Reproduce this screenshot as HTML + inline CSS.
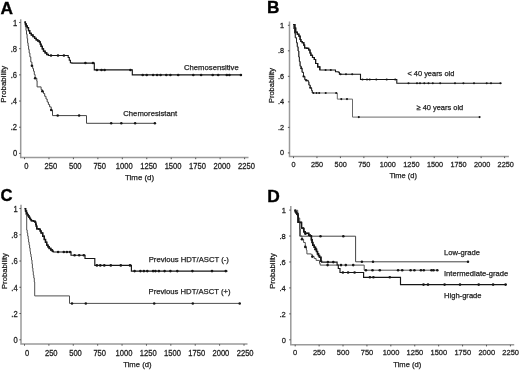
<!DOCTYPE html>
<html><head><meta charset="utf-8"><title>Survival curves</title>
<style>
html,body{margin:0;padding:0;background:#fff;}
body{width:520px;height:370px;overflow:hidden;}
svg{display:block;font-family:"Liberation Sans", sans-serif;will-change:transform;filter:blur(0.35px);}
</style></head>
<body>
<svg width="520" height="370" viewBox="0 0 520 370">
<rect width="520" height="370" fill="#fff"/>
<text x="0.6" y="13.7" font-size="17.3" text-anchor="start" font-weight="bold" fill="#000" stroke="#000" stroke-width="0.35" >A</text>
<path d="M20.7,19.3 V157.6 H248.5" fill="none" stroke="#9a9a9a" stroke-width="1.5" stroke-linejoin="miter" stroke-linecap="butt"/>
<path d="M19.1,153.4 H20.7" fill="none" stroke="#555" stroke-width="1" stroke-linejoin="miter" stroke-linecap="butt"/>
<text x="0" y="0" transform="translate(17.1,156.44) scale(1,1.08)" font-size="7.6" text-anchor="end" font-weight="normal" fill="#1e1e1e" stroke="#1e1e1e" stroke-width="0.25" >0</text>
<path d="M19.1,127.22 H20.7" fill="none" stroke="#555" stroke-width="1" stroke-linejoin="miter" stroke-linecap="butt"/>
<text x="0" y="0" transform="translate(17.1,130.26) scale(1,1.08)" font-size="7.6" text-anchor="end" font-weight="normal" fill="#1e1e1e" stroke="#1e1e1e" stroke-width="0.25" >.2</text>
<path d="M19.1,101.04 H20.7" fill="none" stroke="#555" stroke-width="1" stroke-linejoin="miter" stroke-linecap="butt"/>
<text x="0" y="0" transform="translate(17.1,104.08) scale(1,1.08)" font-size="7.6" text-anchor="end" font-weight="normal" fill="#1e1e1e" stroke="#1e1e1e" stroke-width="0.25" >.4</text>
<path d="M19.1,74.86 H20.7" fill="none" stroke="#555" stroke-width="1" stroke-linejoin="miter" stroke-linecap="butt"/>
<text x="0" y="0" transform="translate(17.1,77.9) scale(1,1.08)" font-size="7.6" text-anchor="end" font-weight="normal" fill="#1e1e1e" stroke="#1e1e1e" stroke-width="0.25" >.6</text>
<path d="M19.1,48.68 H20.7" fill="none" stroke="#555" stroke-width="1" stroke-linejoin="miter" stroke-linecap="butt"/>
<text x="0" y="0" transform="translate(17.1,51.72) scale(1,1.08)" font-size="7.6" text-anchor="end" font-weight="normal" fill="#1e1e1e" stroke="#1e1e1e" stroke-width="0.25" >.8</text>
<path d="M19.1,22.5 H20.7" fill="none" stroke="#555" stroke-width="1" stroke-linejoin="miter" stroke-linecap="butt"/>
<text x="0" y="0" transform="translate(17.1,25.54) scale(1,1.08)" font-size="7.6" text-anchor="end" font-weight="normal" fill="#1e1e1e" stroke="#1e1e1e" stroke-width="0.25" >1</text>
<path d="M24.5,157.6 V159.2" fill="none" stroke="#555" stroke-width="1" stroke-linejoin="miter" stroke-linecap="butt"/>
<text x="0" y="0" transform="translate(26.35,169) scale(1,1.08)" font-size="7.6" text-anchor="middle" font-weight="normal" fill="#1e1e1e" stroke="#1e1e1e" stroke-width="0.25" >0</text>
<path d="M48.96,157.6 V159.2" fill="none" stroke="#555" stroke-width="1" stroke-linejoin="miter" stroke-linecap="butt"/>
<text x="0" y="0" transform="translate(50.81,169) scale(1,1.08)" font-size="7.6" text-anchor="middle" font-weight="normal" fill="#1e1e1e" stroke="#1e1e1e" stroke-width="0.25" >250</text>
<path d="M73.41,157.6 V159.2" fill="none" stroke="#555" stroke-width="1" stroke-linejoin="miter" stroke-linecap="butt"/>
<text x="0" y="0" transform="translate(75.26,169) scale(1,1.08)" font-size="7.6" text-anchor="middle" font-weight="normal" fill="#1e1e1e" stroke="#1e1e1e" stroke-width="0.25" >500</text>
<path d="M97.87,157.6 V159.2" fill="none" stroke="#555" stroke-width="1" stroke-linejoin="miter" stroke-linecap="butt"/>
<text x="0" y="0" transform="translate(99.72,169) scale(1,1.08)" font-size="7.6" text-anchor="middle" font-weight="normal" fill="#1e1e1e" stroke="#1e1e1e" stroke-width="0.25" >750</text>
<path d="M122.32,157.6 V159.2" fill="none" stroke="#555" stroke-width="1" stroke-linejoin="miter" stroke-linecap="butt"/>
<text x="0" y="0" transform="translate(124.17,169) scale(1,1.08)" font-size="7.6" text-anchor="middle" font-weight="normal" fill="#1e1e1e" stroke="#1e1e1e" stroke-width="0.25" >1000</text>
<path d="M146.78,157.6 V159.2" fill="none" stroke="#555" stroke-width="1" stroke-linejoin="miter" stroke-linecap="butt"/>
<text x="0" y="0" transform="translate(148.63,169) scale(1,1.08)" font-size="7.6" text-anchor="middle" font-weight="normal" fill="#1e1e1e" stroke="#1e1e1e" stroke-width="0.25" >1250</text>
<path d="M171.23,157.6 V159.2" fill="none" stroke="#555" stroke-width="1" stroke-linejoin="miter" stroke-linecap="butt"/>
<text x="0" y="0" transform="translate(173.08,169) scale(1,1.08)" font-size="7.6" text-anchor="middle" font-weight="normal" fill="#1e1e1e" stroke="#1e1e1e" stroke-width="0.25" >1500</text>
<path d="M195.69,157.6 V159.2" fill="none" stroke="#555" stroke-width="1" stroke-linejoin="miter" stroke-linecap="butt"/>
<text x="0" y="0" transform="translate(197.54,169) scale(1,1.08)" font-size="7.6" text-anchor="middle" font-weight="normal" fill="#1e1e1e" stroke="#1e1e1e" stroke-width="0.25" >1750</text>
<path d="M220.14,157.6 V159.2" fill="none" stroke="#555" stroke-width="1" stroke-linejoin="miter" stroke-linecap="butt"/>
<text x="0" y="0" transform="translate(221.99,169) scale(1,1.08)" font-size="7.6" text-anchor="middle" font-weight="normal" fill="#1e1e1e" stroke="#1e1e1e" stroke-width="0.25" >2000</text>
<path d="M244.6,157.6 V159.2" fill="none" stroke="#555" stroke-width="1" stroke-linejoin="miter" stroke-linecap="butt"/>
<text x="0" y="0" transform="translate(246.45,169) scale(1,1.08)" font-size="7.6" text-anchor="middle" font-weight="normal" fill="#1e1e1e" stroke="#1e1e1e" stroke-width="0.25" >2250</text>
<text x="139.6" y="179.5" font-size="7.9" text-anchor="middle" font-weight="normal" fill="#1e1e1e" stroke="#1e1e1e" stroke-width="0.25" >Time (d)</text>
<text x="0" y="0" font-size="7.9" text-anchor="middle" font-weight="normal" fill="#1e1e1e" stroke="#1e1e1e" stroke-width="0.25" transform="translate(5.9,84.3) rotate(-90)">Probability</text>
<path d="M24.5,22.1 H25.4 V26.6 H26 V30.5 H26.5 V34.2 H27.1 V38.5 H27.6 V42.9 H28.1 V46 H28.6 V49.4 H29.2 V53 H29.9 V56.9 H30.8 V62 H31.9 V65.8 H32.7 V68.5 H33.5 V71.2 H34.3 V74.5 H35.1 V78.2 H36.8 V81 H37.1 V86.9 H41.1 V89.6 H42.3 V91.2 H43.5 V93.5 H44.7 V96.3 H46 V99 H47.2 V102 H48.4 V104.5 H49.6 V106.9 H51.2 V110.1 H52.5 V115.6 H86.5 V123.3 H155.3" fill="none" stroke="#444" stroke-width="1" stroke-linejoin="miter" stroke-linecap="butt"/>
<circle cx="31.9" cy="65.8" r="1.25" fill="#161616"/>
<circle cx="35.1" cy="78.2" r="1.25" fill="#161616"/>
<circle cx="42.3" cy="91.2" r="1.25" fill="#161616"/>
<circle cx="51.2" cy="110.1" r="1.25" fill="#161616"/>
<circle cx="57.7" cy="115.5" r="1.25" fill="#161616"/>
<circle cx="79.1" cy="115.5" r="1.25" fill="#161616"/>
<circle cx="111.2" cy="123.3" r="1.25" fill="#161616"/>
<circle cx="121.3" cy="123.3" r="1.25" fill="#161616"/>
<circle cx="135.1" cy="123.3" r="1.25" fill="#161616"/>
<circle cx="154.9" cy="123.3" r="1.25" fill="#161616"/>
<path d="M24.5,22.1 H25.4 V24 H26.3 V26 H27.3 V27.7 H28.5 V30.6 H29.7 V33.4 H31.3 V35 H33 V36.6 H34.6 V38.3 H36.2 V39.9 H37.8 V41 H39.4 V42 H40.3 V44.2 H41.1 V46.4 H42.3 V48.8 H43.5 V51.2 H45.1 V52.9 H46.7 V54.5 H48.4 V55.5 H68.2 V57.5 H69.3 V60.2 H70.4 V62.7 H71.8 V63.1 H94.3 V69.9 H132.3 V74.9 H241.4" fill="none" stroke="#161616" stroke-width="1.15" stroke-linejoin="miter" stroke-linecap="butt"/>
<path d="M24.5,22.1 H25.4 V24 H26.3 V26 H27.3 V27.7 H28.5 V30.6 H29.7 V33.4 H31.3 V35 H33 V36.6 H34.6 V38.3 H36.2 V39.9 H37.8 V41 H39.4 V42 H40.3 V44.2 H41.1 V46.4 H42.3 V48.8 H43.5 V51.2 H45.1 V52.9 H46.7 V54.5 H48.4 V55.5 " fill="none" stroke="#161616" stroke-width="1.3" stroke-linejoin="miter" stroke-linecap="butt"/>
<circle cx="51" cy="55.5" r="1.3" fill="#161616"/>
<circle cx="58" cy="55.5" r="1.3" fill="#161616"/>
<circle cx="63.9" cy="55.5" r="1.3" fill="#161616"/>
<circle cx="85.4" cy="63" r="1.3" fill="#161616"/>
<circle cx="93" cy="63" r="1.3" fill="#161616"/>
<circle cx="96.9" cy="70" r="1.3" fill="#161616"/>
<circle cx="101.5" cy="70" r="1.3" fill="#161616"/>
<circle cx="104.6" cy="70" r="1.3" fill="#161616"/>
<circle cx="130.4" cy="70" r="1.3" fill="#161616"/>
<circle cx="142.7" cy="75" r="1.3" fill="#161616"/>
<circle cx="146.7" cy="75" r="1.3" fill="#161616"/>
<circle cx="153.1" cy="75" r="1.3" fill="#161616"/>
<circle cx="157.1" cy="75" r="1.3" fill="#161616"/>
<circle cx="160.6" cy="75" r="1.3" fill="#161616"/>
<circle cx="166.3" cy="75" r="1.3" fill="#161616"/>
<circle cx="170.4" cy="75" r="1.3" fill="#161616"/>
<circle cx="178.2" cy="75" r="1.3" fill="#161616"/>
<circle cx="193.3" cy="75" r="1.3" fill="#161616"/>
<circle cx="201.1" cy="75" r="1.3" fill="#161616"/>
<circle cx="212.7" cy="75" r="1.3" fill="#161616"/>
<circle cx="218.2" cy="75" r="1.3" fill="#161616"/>
<circle cx="226.8" cy="75" r="1.3" fill="#161616"/>
<circle cx="229.4" cy="75" r="1.3" fill="#161616"/>
<circle cx="240.9" cy="75" r="1.3" fill="#161616"/>
<text x="184" y="69.9" font-size="7.7" text-anchor="start" font-weight="normal" fill="#1e1e1e" stroke="#1e1e1e" stroke-width="0.25" >Chemosensitive</text>
<text x="123.3" y="116.4" font-size="7.7" text-anchor="start" font-weight="normal" fill="#1e1e1e" stroke="#1e1e1e" stroke-width="0.25" >Chemoresistant</text>
<text x="267" y="13.45" font-size="17.2" text-anchor="start" font-weight="bold" fill="#000" stroke="#000" stroke-width="0.35" >B</text>
<path d="M289.5,21.5 V156.5 H508.9" fill="none" stroke="#9a9a9a" stroke-width="1.5" stroke-linejoin="miter" stroke-linecap="butt"/>
<path d="M287.9,152.9 H289.5" fill="none" stroke="#555" stroke-width="1" stroke-linejoin="miter" stroke-linecap="butt"/>
<text x="0" y="0" transform="translate(284,155.28) scale(1,1.08)" font-size="7.3" text-anchor="end" font-weight="normal" fill="#1e1e1e" stroke="#1e1e1e" stroke-width="0.25" >0</text>
<path d="M287.9,127.38 H289.5" fill="none" stroke="#555" stroke-width="1" stroke-linejoin="miter" stroke-linecap="butt"/>
<text x="0" y="0" transform="translate(284,129.76) scale(1,1.08)" font-size="7.3" text-anchor="end" font-weight="normal" fill="#1e1e1e" stroke="#1e1e1e" stroke-width="0.25" >.2</text>
<path d="M287.9,101.86 H289.5" fill="none" stroke="#555" stroke-width="1" stroke-linejoin="miter" stroke-linecap="butt"/>
<text x="0" y="0" transform="translate(284,104.24) scale(1,1.08)" font-size="7.3" text-anchor="end" font-weight="normal" fill="#1e1e1e" stroke="#1e1e1e" stroke-width="0.25" >.4</text>
<path d="M287.9,76.34 H289.5" fill="none" stroke="#555" stroke-width="1" stroke-linejoin="miter" stroke-linecap="butt"/>
<text x="0" y="0" transform="translate(284,78.72) scale(1,1.08)" font-size="7.3" text-anchor="end" font-weight="normal" fill="#1e1e1e" stroke="#1e1e1e" stroke-width="0.25" >.6</text>
<path d="M287.9,50.82 H289.5" fill="none" stroke="#555" stroke-width="1" stroke-linejoin="miter" stroke-linecap="butt"/>
<text x="0" y="0" transform="translate(284,53.2) scale(1,1.08)" font-size="7.3" text-anchor="end" font-weight="normal" fill="#1e1e1e" stroke="#1e1e1e" stroke-width="0.25" >.8</text>
<path d="M287.9,25.3 H289.5" fill="none" stroke="#555" stroke-width="1" stroke-linejoin="miter" stroke-linecap="butt"/>
<text x="0" y="0" transform="translate(284,27.68) scale(1,1.08)" font-size="7.3" text-anchor="end" font-weight="normal" fill="#1e1e1e" stroke="#1e1e1e" stroke-width="0.25" >1</text>
<path d="M293.5,156.5 V158.1" fill="none" stroke="#555" stroke-width="1" stroke-linejoin="miter" stroke-linecap="butt"/>
<text x="0" y="0" transform="translate(293.5,166.8) scale(1,1.08)" font-size="7.3" text-anchor="middle" font-weight="normal" fill="#1e1e1e" stroke="#1e1e1e" stroke-width="0.25" >0</text>
<path d="M316.96,156.5 V158.1" fill="none" stroke="#555" stroke-width="1" stroke-linejoin="miter" stroke-linecap="butt"/>
<text x="0" y="0" transform="translate(317.08,166.8) scale(1,1.08)" font-size="7.3" text-anchor="middle" font-weight="normal" fill="#1e1e1e" stroke="#1e1e1e" stroke-width="0.25" >250</text>
<path d="M340.41,156.5 V158.1" fill="none" stroke="#555" stroke-width="1" stroke-linejoin="miter" stroke-linecap="butt"/>
<text x="0" y="0" transform="translate(340.66,166.8) scale(1,1.08)" font-size="7.3" text-anchor="middle" font-weight="normal" fill="#1e1e1e" stroke="#1e1e1e" stroke-width="0.25" >500</text>
<path d="M363.87,156.5 V158.1" fill="none" stroke="#555" stroke-width="1" stroke-linejoin="miter" stroke-linecap="butt"/>
<text x="0" y="0" transform="translate(364.23,166.8) scale(1,1.08)" font-size="7.3" text-anchor="middle" font-weight="normal" fill="#1e1e1e" stroke="#1e1e1e" stroke-width="0.25" >750</text>
<path d="M387.32,156.5 V158.1" fill="none" stroke="#555" stroke-width="1" stroke-linejoin="miter" stroke-linecap="butt"/>
<text x="0" y="0" transform="translate(387.81,166.8) scale(1,1.08)" font-size="7.3" text-anchor="middle" font-weight="normal" fill="#1e1e1e" stroke="#1e1e1e" stroke-width="0.25" >1000</text>
<path d="M410.78,156.5 V158.1" fill="none" stroke="#555" stroke-width="1" stroke-linejoin="miter" stroke-linecap="butt"/>
<text x="0" y="0" transform="translate(411.39,166.8) scale(1,1.08)" font-size="7.3" text-anchor="middle" font-weight="normal" fill="#1e1e1e" stroke="#1e1e1e" stroke-width="0.25" >1250</text>
<path d="M434.23,156.5 V158.1" fill="none" stroke="#555" stroke-width="1" stroke-linejoin="miter" stroke-linecap="butt"/>
<text x="0" y="0" transform="translate(434.97,166.8) scale(1,1.08)" font-size="7.3" text-anchor="middle" font-weight="normal" fill="#1e1e1e" stroke="#1e1e1e" stroke-width="0.25" >1500</text>
<path d="M457.69,156.5 V158.1" fill="none" stroke="#555" stroke-width="1" stroke-linejoin="miter" stroke-linecap="butt"/>
<text x="0" y="0" transform="translate(458.54,166.8) scale(1,1.08)" font-size="7.3" text-anchor="middle" font-weight="normal" fill="#1e1e1e" stroke="#1e1e1e" stroke-width="0.25" >1750</text>
<path d="M481.14,156.5 V158.1" fill="none" stroke="#555" stroke-width="1" stroke-linejoin="miter" stroke-linecap="butt"/>
<text x="0" y="0" transform="translate(482.12,166.8) scale(1,1.08)" font-size="7.3" text-anchor="middle" font-weight="normal" fill="#1e1e1e" stroke="#1e1e1e" stroke-width="0.25" >2000</text>
<path d="M504.6,156.5 V158.1" fill="none" stroke="#555" stroke-width="1" stroke-linejoin="miter" stroke-linecap="butt"/>
<text x="0" y="0" transform="translate(505.7,166.8) scale(1,1.08)" font-size="7.3" text-anchor="middle" font-weight="normal" fill="#1e1e1e" stroke="#1e1e1e" stroke-width="0.25" >2250</text>
<text x="403.2" y="177.5" font-size="7.5" text-anchor="middle" font-weight="normal" fill="#1e1e1e" stroke="#1e1e1e" stroke-width="0.25" >Time (d)</text>
<text x="0" y="0" font-size="7.5" text-anchor="middle" font-weight="normal" fill="#1e1e1e" stroke="#1e1e1e" stroke-width="0.25" transform="translate(274,85.6) rotate(-90)">Probability</text>
<path d="M293.4,24.5 H294 V29 H294.5 V33 H295.3 V37.8 H296.5 V42.7 H297.3 V46.8 H298.1 V51 H298.8 V57 H299.4 V61.5 H300.1 V66.2 H301.2 V68.2 H302.1 V72.3 H303.5 V76.4 H304.8 V79.7 H306.2 V80.4 H308.2 V81.8 H308.9 V85.1 H310.2 V87.8 H311.6 V90.5 H312.3 V93 H337.3 V99.1 H352.5 V117.1 H480" fill="none" stroke="#6a6a6a" stroke-width="1" stroke-linejoin="miter" stroke-linecap="butt"/>
<path d="M293.4,24.5 H294 V29 H294.5 V33 H295.3 V37.8 H296.5 V42.7 H297.3 V46.8 H298.1 V51 H298.8 V57 H299.4 V61.5 H300.1 V66.2 H301.2 V68.2 H302.1 V72.3 H303.5 V76.4 H304.8 V79.7 H306.2 V80.4 H308.2 V81.8 H308.9 V85.1 H310.2 V87.8 H311.6 V90.5 H312.3 V93 " fill="none" stroke="#2a2a2a" stroke-width="1" stroke-linejoin="miter" stroke-linecap="butt"/>
<circle cx="301.2" cy="68.2" r="1.05" fill="#161616"/>
<circle cx="303.5" cy="76.4" r="1.05" fill="#161616"/>
<circle cx="306.2" cy="80.4" r="1.05" fill="#161616"/>
<circle cx="310.2" cy="87.8" r="1.05" fill="#161616"/>
<circle cx="313.5" cy="93" r="1.05" fill="#161616"/>
<circle cx="316.5" cy="93" r="1.05" fill="#161616"/>
<circle cx="319.2" cy="93" r="1.05" fill="#161616"/>
<circle cx="325.7" cy="93" r="1.05" fill="#161616"/>
<circle cx="336.2" cy="93" r="1.05" fill="#161616"/>
<circle cx="341.3" cy="99.1" r="1.05" fill="#161616"/>
<circle cx="347" cy="99.1" r="1.05" fill="#161616"/>
<circle cx="358.8" cy="117.1" r="1.05" fill="#161616"/>
<circle cx="479.6" cy="117.1" r="1.05" fill="#161616"/>
<path d="M293.4,24.5 H294.9 V28.1 H295.7 V32.2 H297.3 V34.2 H298.9 V36.2 H300.1 V39.5 H300.9 V41.5 H302.2 V42.7 H303.8 V45.1 H304.6 V48 H307 V48.4 H308.7 V50 H310 V53 H310.9 V55.4 H312.5 V57.5 H314.3 V59.5 H315.6 V63.5 H317.7 V66.9 H319.8 V70 H335.5 V71.7 H338.3 V72.3 H339.4 V74.3 H360.5 V79.5 H396.8 V83.3 H501.5" fill="none" stroke="#161616" stroke-width="1.1" stroke-linejoin="miter" stroke-linecap="butt"/>
<path d="M293.4,24.5 H294.9 V28.1 H295.7 V32.2 H297.3 V34.2 H298.9 V36.2 H300.1 V39.5 H300.9 V41.5 H302.2 V42.7 H303.8 V45.1 H304.6 V48 H307 V48.4 H308.7 V50 H310 V53 H310.9 V55.4 H312.5 V57.5 H314.3 V59.5 H315.6 V63.5 H317.7 V66.9 H319.8 V70 " fill="none" stroke="#161616" stroke-width="1.2" stroke-linejoin="miter" stroke-linecap="butt"/>
<circle cx="325.6" cy="70" r="1.05" fill="#161616"/>
<circle cx="330.8" cy="70" r="1.05" fill="#161616"/>
<circle cx="340.6" cy="74.3" r="1.05" fill="#161616"/>
<circle cx="346" cy="74.3" r="1.05" fill="#161616"/>
<circle cx="352.2" cy="74.3" r="1.05" fill="#161616"/>
<circle cx="362.5" cy="79.5" r="1.05" fill="#161616"/>
<circle cx="367" cy="79.5" r="1.05" fill="#161616"/>
<circle cx="369.7" cy="79.5" r="1.05" fill="#161616"/>
<circle cx="376.3" cy="79.5" r="1.05" fill="#161616"/>
<circle cx="386.7" cy="79.5" r="1.05" fill="#161616"/>
<circle cx="395.2" cy="79.5" r="1.05" fill="#161616"/>
<circle cx="408.5" cy="83.3" r="1.05" fill="#161616"/>
<circle cx="417" cy="83.3" r="1.05" fill="#161616"/>
<circle cx="420" cy="83.3" r="1.05" fill="#161616"/>
<circle cx="424.3" cy="83.3" r="1.05" fill="#161616"/>
<circle cx="428.5" cy="83.3" r="1.05" fill="#161616"/>
<circle cx="432.8" cy="83.3" r="1.05" fill="#161616"/>
<circle cx="440.2" cy="83.3" r="1.05" fill="#161616"/>
<circle cx="455" cy="83.3" r="1.05" fill="#161616"/>
<circle cx="463.4" cy="83.3" r="1.05" fill="#161616"/>
<circle cx="474" cy="83.3" r="1.05" fill="#161616"/>
<circle cx="486.7" cy="83.3" r="1.05" fill="#161616"/>
<circle cx="491" cy="83.3" r="1.05" fill="#161616"/>
<circle cx="500.4" cy="83.3" r="1.05" fill="#161616"/>
<text x="407.4" y="75.7" font-size="7.45" text-anchor="start" font-weight="normal" fill="#1e1e1e" stroke="#1e1e1e" stroke-width="0.25" >&lt; 40 years old</text>
<text x="416.5" y="109.8" font-size="7.45" text-anchor="start" font-weight="normal" fill="#1e1e1e" stroke="#1e1e1e" stroke-width="0.25" >≥ 40 years old</text>
<text x="0.6" y="201.1" font-size="16.6" text-anchor="start" font-weight="bold" fill="#000" stroke="#000" stroke-width="0.35" >C</text>
<path d="M21,204.7 V344.1 H247.5" fill="none" stroke="#9a9a9a" stroke-width="1.5" stroke-linejoin="miter" stroke-linecap="butt"/>
<path d="M19.4,339.8 H21" fill="none" stroke="#555" stroke-width="1" stroke-linejoin="miter" stroke-linecap="butt"/>
<text x="0" y="0" transform="translate(17.7,343.24) scale(1,1.08)" font-size="7.6" text-anchor="end" font-weight="normal" fill="#1e1e1e" stroke="#1e1e1e" stroke-width="0.25" >0</text>
<path d="M19.4,313.54 H21" fill="none" stroke="#555" stroke-width="1" stroke-linejoin="miter" stroke-linecap="butt"/>
<text x="0" y="0" transform="translate(17.7,316.98) scale(1,1.08)" font-size="7.6" text-anchor="end" font-weight="normal" fill="#1e1e1e" stroke="#1e1e1e" stroke-width="0.25" >.2</text>
<path d="M19.4,287.28 H21" fill="none" stroke="#555" stroke-width="1" stroke-linejoin="miter" stroke-linecap="butt"/>
<text x="0" y="0" transform="translate(17.7,290.72) scale(1,1.08)" font-size="7.6" text-anchor="end" font-weight="normal" fill="#1e1e1e" stroke="#1e1e1e" stroke-width="0.25" >.4</text>
<path d="M19.4,261.02 H21" fill="none" stroke="#555" stroke-width="1" stroke-linejoin="miter" stroke-linecap="butt"/>
<text x="0" y="0" transform="translate(17.7,264.46) scale(1,1.08)" font-size="7.6" text-anchor="end" font-weight="normal" fill="#1e1e1e" stroke="#1e1e1e" stroke-width="0.25" >.6</text>
<path d="M19.4,234.76 H21" fill="none" stroke="#555" stroke-width="1" stroke-linejoin="miter" stroke-linecap="butt"/>
<text x="0" y="0" transform="translate(17.7,238.2) scale(1,1.08)" font-size="7.6" text-anchor="end" font-weight="normal" fill="#1e1e1e" stroke="#1e1e1e" stroke-width="0.25" >.8</text>
<path d="M19.4,208.5 H21" fill="none" stroke="#555" stroke-width="1" stroke-linejoin="miter" stroke-linecap="butt"/>
<text x="0" y="0" transform="translate(17.7,211.94) scale(1,1.08)" font-size="7.6" text-anchor="end" font-weight="normal" fill="#1e1e1e" stroke="#1e1e1e" stroke-width="0.25" >1</text>
<path d="M24.5,344.1 V345.7" fill="none" stroke="#555" stroke-width="1" stroke-linejoin="miter" stroke-linecap="butt"/>
<text x="0" y="0" transform="translate(27,356) scale(1,1.08)" font-size="7.6" text-anchor="middle" font-weight="normal" fill="#1e1e1e" stroke="#1e1e1e" stroke-width="0.25" >0</text>
<path d="M48.89,344.1 V345.7" fill="none" stroke="#555" stroke-width="1" stroke-linejoin="miter" stroke-linecap="butt"/>
<text x="0" y="0" transform="translate(51.24,356) scale(1,1.08)" font-size="7.6" text-anchor="middle" font-weight="normal" fill="#1e1e1e" stroke="#1e1e1e" stroke-width="0.25" >250</text>
<path d="M73.28,344.1 V345.7" fill="none" stroke="#555" stroke-width="1" stroke-linejoin="miter" stroke-linecap="butt"/>
<text x="0" y="0" transform="translate(75.48,356) scale(1,1.08)" font-size="7.6" text-anchor="middle" font-weight="normal" fill="#1e1e1e" stroke="#1e1e1e" stroke-width="0.25" >500</text>
<path d="M97.67,344.1 V345.7" fill="none" stroke="#555" stroke-width="1" stroke-linejoin="miter" stroke-linecap="butt"/>
<text x="0" y="0" transform="translate(99.72,356) scale(1,1.08)" font-size="7.6" text-anchor="middle" font-weight="normal" fill="#1e1e1e" stroke="#1e1e1e" stroke-width="0.25" >750</text>
<path d="M122.06,344.1 V345.7" fill="none" stroke="#555" stroke-width="1" stroke-linejoin="miter" stroke-linecap="butt"/>
<text x="0" y="0" transform="translate(123.96,356) scale(1,1.08)" font-size="7.6" text-anchor="middle" font-weight="normal" fill="#1e1e1e" stroke="#1e1e1e" stroke-width="0.25" >1000</text>
<path d="M146.44,344.1 V345.7" fill="none" stroke="#555" stroke-width="1" stroke-linejoin="miter" stroke-linecap="butt"/>
<text x="0" y="0" transform="translate(148.19,356) scale(1,1.08)" font-size="7.6" text-anchor="middle" font-weight="normal" fill="#1e1e1e" stroke="#1e1e1e" stroke-width="0.25" >1250</text>
<path d="M170.83,344.1 V345.7" fill="none" stroke="#555" stroke-width="1" stroke-linejoin="miter" stroke-linecap="butt"/>
<text x="0" y="0" transform="translate(172.43,356) scale(1,1.08)" font-size="7.6" text-anchor="middle" font-weight="normal" fill="#1e1e1e" stroke="#1e1e1e" stroke-width="0.25" >1500</text>
<path d="M195.22,344.1 V345.7" fill="none" stroke="#555" stroke-width="1" stroke-linejoin="miter" stroke-linecap="butt"/>
<text x="0" y="0" transform="translate(196.67,356) scale(1,1.08)" font-size="7.6" text-anchor="middle" font-weight="normal" fill="#1e1e1e" stroke="#1e1e1e" stroke-width="0.25" >1750</text>
<path d="M219.61,344.1 V345.7" fill="none" stroke="#555" stroke-width="1" stroke-linejoin="miter" stroke-linecap="butt"/>
<text x="0" y="0" transform="translate(220.91,356) scale(1,1.08)" font-size="7.6" text-anchor="middle" font-weight="normal" fill="#1e1e1e" stroke="#1e1e1e" stroke-width="0.25" >2000</text>
<path d="M244,344.1 V345.7" fill="none" stroke="#555" stroke-width="1" stroke-linejoin="miter" stroke-linecap="butt"/>
<text x="0" y="0" transform="translate(245.15,356) scale(1,1.08)" font-size="7.6" text-anchor="middle" font-weight="normal" fill="#1e1e1e" stroke="#1e1e1e" stroke-width="0.25" >2250</text>
<text x="137.4" y="367.3" font-size="7.7" text-anchor="middle" font-weight="normal" fill="#1e1e1e" stroke="#1e1e1e" stroke-width="0.25" >Time (d)</text>
<text x="0" y="0" font-size="7.7" text-anchor="middle" font-weight="normal" fill="#1e1e1e" stroke="#1e1e1e" stroke-width="0.25" transform="translate(6.6,271.1) rotate(-90)">Probability</text>
<path d="M24.7,208.4 H25.3 V211.5 H26 V215 H26.7 V230 H27.2 V233 H27.7 V236 H28.2 V239 H28.6 V242 H29.1 V245 H29.6 V248 H30.1 V251.5 H30.5 V254 H31 V257 H31.5 V260 H32 V264 H32.4 V268 H32.9 V271.5 H33.3 V275 H33.8 V278 H34.3 V282 H34.7 V295.9 H69.5 V303.4 H240.4" fill="none" stroke="#505050" stroke-width="1" stroke-linejoin="miter" stroke-linecap="butt"/>
<circle cx="72" cy="303.4" r="1.25" fill="#161616"/>
<circle cx="85.8" cy="303.4" r="1.25" fill="#161616"/>
<circle cx="154.2" cy="303.4" r="1.25" fill="#161616"/>
<circle cx="192.8" cy="303.4" r="1.25" fill="#161616"/>
<circle cx="239.7" cy="303.4" r="1.25" fill="#161616"/>
<path d="M24.7,208.6 H25.6 V211 H26.5 V213.1 H27.3 V214.5 H28.1 V215.8 H28.9 V217.2 H29.7 V218.5 H30.5 V219.6 H31.4 V220.7 H33.5 V221.2 H35.1 V222.3 H35.7 V224.2 H36.2 V226.1 H36.8 V228.8 H38.9 V229.3 H40.2 V231 H41.1 V233 H42.7 V236.2 H44.3 V239.5 H45.5 V242.3 H46.7 V245.1 H48 V246.8 H49.2 V248.4 H50.8 V249.9 H52.4 V251.3 H53.2 V252 H71 V255.2 H85 V258.5 H94.8 V265.4 H131.4 V271.1 H227.5" fill="none" stroke="#161616" stroke-width="1.15" stroke-linejoin="miter" stroke-linecap="butt"/>
<path d="M24.7,208.6 H25.6 V211 H26.5 V213.1 H27.3 V214.5 H28.1 V215.8 H28.9 V217.2 H29.7 V218.5 H30.5 V219.6 H31.4 V220.7 H33.5 V221.2 H35.1 V222.3 H35.7 V224.2 H36.2 V226.1 H36.8 V228.8 H38.9 V229.3 H40.2 V231 H41.1 V233 H42.7 V236.2 H44.3 V239.5 H45.5 V242.3 H46.7 V245.1 H48 V246.8 H49.2 V248.4 H50.8 V249.9 H52.4 V251.3 H53.2 V252 " fill="none" stroke="#161616" stroke-width="1.45" stroke-linejoin="miter" stroke-linecap="butt"/>
<circle cx="58.1" cy="252" r="1.3" fill="#161616"/>
<circle cx="63.8" cy="252" r="1.3" fill="#161616"/>
<circle cx="66.9" cy="252" r="1.3" fill="#161616"/>
<circle cx="70" cy="252" r="1.3" fill="#161616"/>
<circle cx="74.6" cy="255.2" r="1.3" fill="#161616"/>
<circle cx="79.2" cy="255.2" r="1.3" fill="#161616"/>
<circle cx="83.8" cy="255.2" r="1.3" fill="#161616"/>
<circle cx="96.9" cy="265.4" r="1.3" fill="#161616"/>
<circle cx="100.3" cy="265.4" r="1.3" fill="#161616"/>
<circle cx="104.3" cy="265.4" r="1.3" fill="#161616"/>
<circle cx="110.8" cy="265.4" r="1.3" fill="#161616"/>
<circle cx="120.8" cy="265.4" r="1.3" fill="#161616"/>
<circle cx="130" cy="265.4" r="1.3" fill="#161616"/>
<circle cx="134.6" cy="271.1" r="1.3" fill="#161616"/>
<circle cx="140.4" cy="271.1" r="1.3" fill="#161616"/>
<circle cx="143.9" cy="271.1" r="1.3" fill="#161616"/>
<circle cx="147.3" cy="271.1" r="1.3" fill="#161616"/>
<circle cx="153.1" cy="271.1" r="1.3" fill="#161616"/>
<circle cx="155.4" cy="271.1" r="1.3" fill="#161616"/>
<circle cx="158.9" cy="271.1" r="1.3" fill="#161616"/>
<circle cx="164.6" cy="271.1" r="1.3" fill="#161616"/>
<circle cx="170.4" cy="271.1" r="1.3" fill="#161616"/>
<circle cx="177.3" cy="271.1" r="1.3" fill="#161616"/>
<circle cx="192.4" cy="271.1" r="1.3" fill="#161616"/>
<circle cx="212" cy="271.1" r="1.3" fill="#161616"/>
<circle cx="225.8" cy="271.1" r="1.3" fill="#161616"/>
<text x="148.7" y="261.6" font-size="7.7" text-anchor="start" font-weight="normal" fill="#1e1e1e" stroke="#1e1e1e" stroke-width="0.25" >Previous HDT/ASCT (-)</text>
<text x="148.5" y="294.3" font-size="7.7" text-anchor="start" font-weight="normal" fill="#1e1e1e" stroke="#1e1e1e" stroke-width="0.25" >Previous HDT/ASCT (+)</text>
<text x="267.2" y="201.5" font-size="17.4" text-anchor="start" font-weight="bold" fill="#000" stroke="#000" stroke-width="0.35" >D</text>
<path d="M290.8,206 V344.8 H514.2" fill="none" stroke="#9a9a9a" stroke-width="1.5" stroke-linejoin="miter" stroke-linecap="butt"/>
<path d="M289.2,339.8 H290.8" fill="none" stroke="#555" stroke-width="1" stroke-linejoin="miter" stroke-linecap="butt"/>
<text x="0" y="0" transform="translate(285.8,342.7) scale(1,1.08)" font-size="7.5" text-anchor="end" font-weight="normal" fill="#1e1e1e" stroke="#1e1e1e" stroke-width="0.25" >0</text>
<path d="M289.2,313.86 H290.8" fill="none" stroke="#555" stroke-width="1" stroke-linejoin="miter" stroke-linecap="butt"/>
<text x="0" y="0" transform="translate(285.8,316.76) scale(1,1.08)" font-size="7.5" text-anchor="end" font-weight="normal" fill="#1e1e1e" stroke="#1e1e1e" stroke-width="0.25" >.2</text>
<path d="M289.2,287.92 H290.8" fill="none" stroke="#555" stroke-width="1" stroke-linejoin="miter" stroke-linecap="butt"/>
<text x="0" y="0" transform="translate(285.8,290.82) scale(1,1.08)" font-size="7.5" text-anchor="end" font-weight="normal" fill="#1e1e1e" stroke="#1e1e1e" stroke-width="0.25" >.4</text>
<path d="M289.2,261.98 H290.8" fill="none" stroke="#555" stroke-width="1" stroke-linejoin="miter" stroke-linecap="butt"/>
<text x="0" y="0" transform="translate(285.8,264.88) scale(1,1.08)" font-size="7.5" text-anchor="end" font-weight="normal" fill="#1e1e1e" stroke="#1e1e1e" stroke-width="0.25" >.6</text>
<path d="M289.2,236.04 H290.8" fill="none" stroke="#555" stroke-width="1" stroke-linejoin="miter" stroke-linecap="butt"/>
<text x="0" y="0" transform="translate(285.8,238.94) scale(1,1.08)" font-size="7.5" text-anchor="end" font-weight="normal" fill="#1e1e1e" stroke="#1e1e1e" stroke-width="0.25" >.8</text>
<path d="M289.2,210.1 H290.8" fill="none" stroke="#555" stroke-width="1" stroke-linejoin="miter" stroke-linecap="butt"/>
<text x="0" y="0" transform="translate(285.8,213) scale(1,1.08)" font-size="7.5" text-anchor="end" font-weight="normal" fill="#1e1e1e" stroke="#1e1e1e" stroke-width="0.25" >1</text>
<path d="M295.2,344.8 V346.4" fill="none" stroke="#555" stroke-width="1" stroke-linejoin="miter" stroke-linecap="butt"/>
<text x="0" y="0" transform="translate(295.2,354.9) scale(1,1.08)" font-size="7.5" text-anchor="middle" font-weight="normal" fill="#1e1e1e" stroke="#1e1e1e" stroke-width="0.25" >0</text>
<path d="M319.11,344.8 V346.4" fill="none" stroke="#555" stroke-width="1" stroke-linejoin="miter" stroke-linecap="butt"/>
<text x="0" y="0" transform="translate(319.14,354.9) scale(1,1.08)" font-size="7.5" text-anchor="middle" font-weight="normal" fill="#1e1e1e" stroke="#1e1e1e" stroke-width="0.25" >250</text>
<path d="M343.02,344.8 V346.4" fill="none" stroke="#555" stroke-width="1" stroke-linejoin="miter" stroke-linecap="butt"/>
<text x="0" y="0" transform="translate(343.08,354.9) scale(1,1.08)" font-size="7.5" text-anchor="middle" font-weight="normal" fill="#1e1e1e" stroke="#1e1e1e" stroke-width="0.25" >500</text>
<path d="M366.93,344.8 V346.4" fill="none" stroke="#555" stroke-width="1" stroke-linejoin="miter" stroke-linecap="butt"/>
<text x="0" y="0" transform="translate(367.02,354.9) scale(1,1.08)" font-size="7.5" text-anchor="middle" font-weight="normal" fill="#1e1e1e" stroke="#1e1e1e" stroke-width="0.25" >750</text>
<path d="M390.84,344.8 V346.4" fill="none" stroke="#555" stroke-width="1" stroke-linejoin="miter" stroke-linecap="butt"/>
<text x="0" y="0" transform="translate(390.96,354.9) scale(1,1.08)" font-size="7.5" text-anchor="middle" font-weight="normal" fill="#1e1e1e" stroke="#1e1e1e" stroke-width="0.25" >1000</text>
<path d="M414.76,344.8 V346.4" fill="none" stroke="#555" stroke-width="1" stroke-linejoin="miter" stroke-linecap="butt"/>
<text x="0" y="0" transform="translate(414.89,354.9) scale(1,1.08)" font-size="7.5" text-anchor="middle" font-weight="normal" fill="#1e1e1e" stroke="#1e1e1e" stroke-width="0.25" >1250</text>
<path d="M438.67,344.8 V346.4" fill="none" stroke="#555" stroke-width="1" stroke-linejoin="miter" stroke-linecap="butt"/>
<text x="0" y="0" transform="translate(438.83,354.9) scale(1,1.08)" font-size="7.5" text-anchor="middle" font-weight="normal" fill="#1e1e1e" stroke="#1e1e1e" stroke-width="0.25" >1500</text>
<path d="M462.58,344.8 V346.4" fill="none" stroke="#555" stroke-width="1" stroke-linejoin="miter" stroke-linecap="butt"/>
<text x="0" y="0" transform="translate(462.77,354.9) scale(1,1.08)" font-size="7.5" text-anchor="middle" font-weight="normal" fill="#1e1e1e" stroke="#1e1e1e" stroke-width="0.25" >1750</text>
<path d="M486.49,344.8 V346.4" fill="none" stroke="#555" stroke-width="1" stroke-linejoin="miter" stroke-linecap="butt"/>
<text x="0" y="0" transform="translate(486.71,354.9) scale(1,1.08)" font-size="7.5" text-anchor="middle" font-weight="normal" fill="#1e1e1e" stroke="#1e1e1e" stroke-width="0.25" >2000</text>
<path d="M510.4,344.8 V346.4" fill="none" stroke="#555" stroke-width="1" stroke-linejoin="miter" stroke-linecap="butt"/>
<text x="0" y="0" transform="translate(510.65,354.9) scale(1,1.08)" font-size="7.5" text-anchor="middle" font-weight="normal" fill="#1e1e1e" stroke="#1e1e1e" stroke-width="0.25" >2250</text>
<text x="407.3" y="366.9" font-size="7.6" text-anchor="middle" font-weight="normal" fill="#1e1e1e" stroke="#1e1e1e" stroke-width="0.25" >Time (d)</text>
<text x="0" y="0" font-size="7.6" text-anchor="middle" font-weight="normal" fill="#1e1e1e" stroke="#1e1e1e" stroke-width="0.25" transform="translate(275,271) rotate(-90)">Probability</text>
<path d="M294.5,210.3 H297.7 V213 H298.4 V218 H299.7 V236.2 H355.6 V261.8 H468" fill="none" stroke="#444" stroke-width="1" stroke-linejoin="miter" stroke-linecap="butt"/>
<circle cx="320.5" cy="236.2" r="1.25" fill="#161616"/>
<circle cx="343.3" cy="236.2" r="1.25" fill="#161616"/>
<circle cx="361.9" cy="261.8" r="1.25" fill="#161616"/>
<circle cx="373" cy="261.8" r="1.25" fill="#161616"/>
<circle cx="468" cy="261.8" r="1.25" fill="#161616"/>
<path d="M294.5,210.3 H295.3 V211.6 H296.1 V213 H296.9 V214.3 H297.7 V215.5 H298.1 V222.3 H299.5 V229 H300.4 V236 H302 V239.3 H303.6 V242.5 H305.3 V246.9 H306.4 V250.1 H306.9 V253.9 H311.2 V254.4 H312.3 V256.6 H314.2 V258.5 H316.1 V260.4 H319.5 V263.4 H320.2 V265.1 H364.2 V270.2 H437.7" fill="none" stroke="#505050" stroke-width="1" stroke-linejoin="miter" stroke-linecap="butt"/>
<circle cx="302" cy="239.3" r="1.3" fill="#161616"/>
<circle cx="305.3" cy="246.9" r="1.3" fill="#161616"/>
<circle cx="312.3" cy="256.6" r="1.3" fill="#161616"/>
<circle cx="327.6" cy="265.1" r="1.3" fill="#161616"/>
<circle cx="341" cy="265.1" r="1.3" fill="#161616"/>
<circle cx="345.8" cy="265.1" r="1.3" fill="#161616"/>
<circle cx="353.2" cy="265.1" r="1.3" fill="#161616"/>
<circle cx="365.9" cy="270.2" r="1.3" fill="#161616"/>
<circle cx="372.5" cy="270.2" r="1.3" fill="#161616"/>
<circle cx="379.8" cy="270.2" r="1.3" fill="#161616"/>
<circle cx="398.1" cy="270.2" r="1.3" fill="#161616"/>
<circle cx="402.2" cy="270.2" r="1.3" fill="#161616"/>
<circle cx="410.6" cy="270.2" r="1.3" fill="#161616"/>
<circle cx="414.4" cy="270.2" r="1.3" fill="#161616"/>
<circle cx="420.9" cy="270.2" r="1.3" fill="#161616"/>
<circle cx="423.8" cy="270.2" r="1.3" fill="#161616"/>
<circle cx="431.5" cy="270.2" r="1.3" fill="#161616"/>
<circle cx="433.5" cy="270.2" r="1.3" fill="#161616"/>
<circle cx="437.3" cy="270.2" r="1.3" fill="#161616"/>
<path d="M294.5,210.3 H295.3 V211.6 H296.1 V213 H296.9 V214.3 H297.7 V215.5 H298.1 V222.3 H301.1 V222.6 H301.5 V228 H303.3 V228.5 H303.8 V231.8 H305.2 V233.3 H308.7 V235.1 H310.1 V235.8 H311.4 V239.8 H312.1 V242.5 H312.8 V245.2 H314.2 V247.2 H315.5 V249.2 H316.5 V251.5 H317.5 V253.9 H318.5 V255.6 H319.5 V257.3 H320.9 V261.3 H321.5 V262.1 H337.1 V265 H338.3 V268.5 H340 V272.5 H363.6 V277.3 H400.5 V284.6 H506.5" fill="none" stroke="#161616" stroke-width="1.15" stroke-linejoin="miter" stroke-linecap="butt"/>
<path d="M294.5,210.3 H295.3 V211.6 H296.1 V213 H296.9 V214.3 H297.7 V215.5 H298.1 V222.3 H301.1 V222.6 H301.5 V228 H303.3 V228.5 H303.8 V231.8 H305.2 V233.3 H308.7 V235.1 H310.1 V235.8 H311.4 V239.8 H312.1 V242.5 H312.8 V245.2 H314.2 V247.2 H315.5 V249.2 H316.5 V251.5 H317.5 V253.9 H318.5 V255.6 H319.5 V257.3 H320.9 V261.3 H321.5 V262.1 " fill="none" stroke="#161616" stroke-width="1.6" stroke-linejoin="miter" stroke-linecap="butt"/>
<circle cx="305.4" cy="233.7" r="1.3" fill="#161616"/>
<circle cx="315.5" cy="249.2" r="1.3" fill="#161616"/>
<circle cx="327.9" cy="262.1" r="1.3" fill="#161616"/>
<circle cx="333.3" cy="262.1" r="1.3" fill="#161616"/>
<circle cx="342.9" cy="272.5" r="1.3" fill="#161616"/>
<circle cx="348.1" cy="272.5" r="1.3" fill="#161616"/>
<circle cx="354.6" cy="272.5" r="1.3" fill="#161616"/>
<circle cx="369.9" cy="277.3" r="1.3" fill="#161616"/>
<circle cx="373.4" cy="277.3" r="1.3" fill="#161616"/>
<circle cx="389.8" cy="277.3" r="1.3" fill="#161616"/>
<circle cx="423.5" cy="284.6" r="1.3" fill="#161616"/>
<circle cx="428" cy="284.6" r="1.3" fill="#161616"/>
<circle cx="444.6" cy="284.6" r="1.3" fill="#161616"/>
<circle cx="460" cy="284.6" r="1.3" fill="#161616"/>
<circle cx="478.7" cy="284.6" r="1.3" fill="#161616"/>
<circle cx="493.1" cy="284.6" r="1.3" fill="#161616"/>
<circle cx="505.6" cy="284.6" r="1.3" fill="#161616"/>
<text x="444" y="254.7" font-size="7.6" text-anchor="start" font-weight="normal" fill="#1e1e1e" stroke="#1e1e1e" stroke-width="0.25" >Low-grade</text>
<text x="444" y="276.4" font-size="7.6" text-anchor="start" font-weight="normal" fill="#1e1e1e" stroke="#1e1e1e" stroke-width="0.25" >Intermediate-grade</text>
<text x="444" y="297.6" font-size="7.6" text-anchor="start" font-weight="normal" fill="#1e1e1e" stroke="#1e1e1e" stroke-width="0.25" >High-grade</text>
</svg>
</body></html>
